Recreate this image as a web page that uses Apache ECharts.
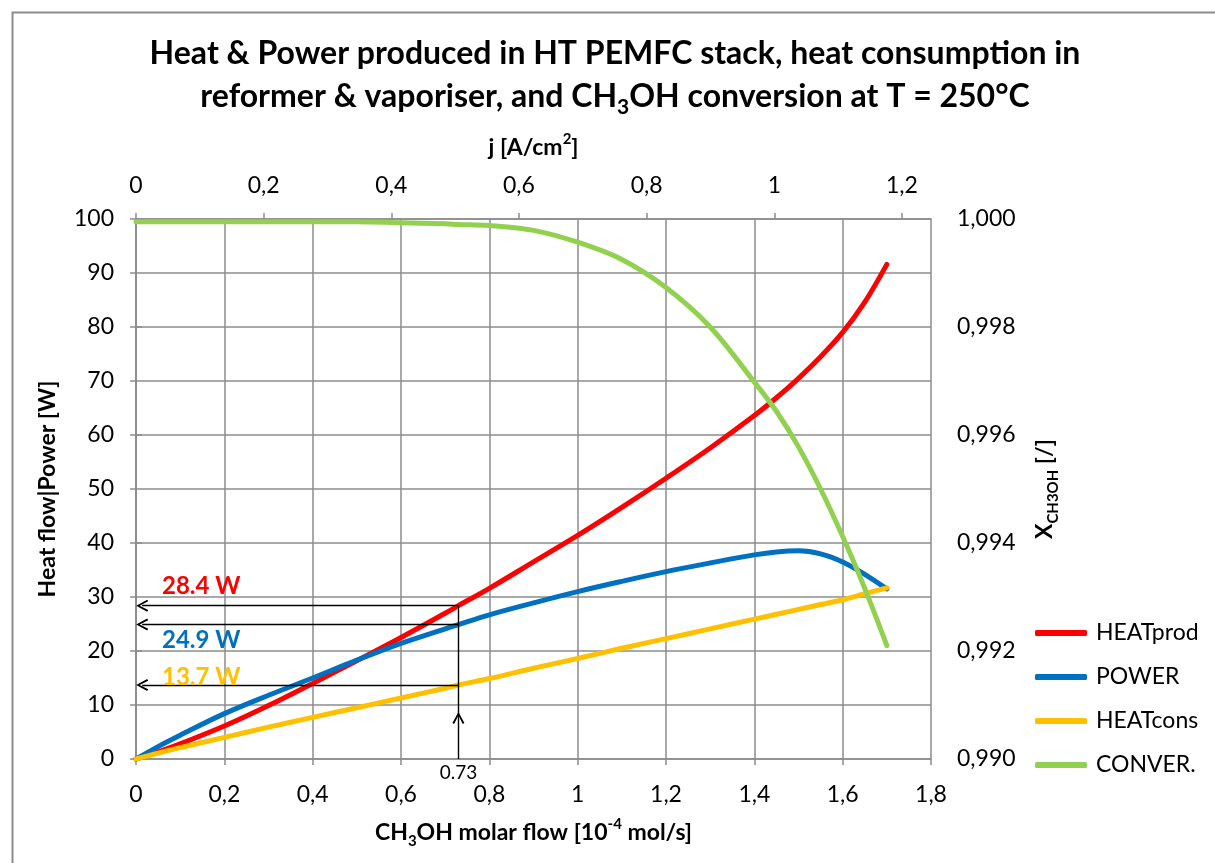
<!DOCTYPE html>
<html>
<head>
<meta charset="utf-8">
<script src="https://cdn.jsdelivr.net/npm/echarts@6/dist/echarts.min.js"></script>
<style>
html,body{margin:0;padding:0;background:#fff;}
#chart{width:1215px;height:863px;}
</style>
</head>
<body>
<div id="chart"></div>
<script>
// ---- data ----
const molarFlow = [0, 0.05, 0.1, 0.2, 0.3, 0.4, 0.5, 0.6, 0.7, 0.73, 0.8, 0.9, 1.0, 1.1, 1.2, 1.3, 1.4, 1.45, 1.5, 1.55, 1.6, 1.65, 1.7];
const heatProd = [0, 1.3, 2.8, 6.1, 9.9, 14.0, 18.2, 22.5, 27.0, 28.4, 31.6, 36.5, 41.4, 46.6, 52.0, 57.6, 63.6, 66.9, 70.5, 74.5, 79.0, 84.6, 91.6];
const power    = [0, 2.3, 4.4, 8.4, 11.8, 15.0, 18.3, 21.4, 24.1, 24.9, 26.7, 28.9, 31.0, 32.9, 34.7, 36.3, 37.8, 38.35, 38.55, 38.0, 36.5, 34.2, 31.5];
const heatCons = [0, 1.1, 2.1, 4.0, 5.9, 7.7, 9.5, 11.3, 13.1, 13.7, 14.9, 16.8, 18.6, 20.5, 22.3, 24.1, 25.9, 26.8, 27.7, 28.6, 29.5, 30.6, 31.7];
const conversion = [0.99995, 0.99995, 0.99995, 0.99995, 0.99995, 0.99995, 0.99995, 0.99993, 0.99991, 0.99990, 0.99988, 0.99979, 0.99957, 0.99925, 0.99873, 0.99800, 0.99698, 0.99644, 0.99578, 0.99500, 0.99412, 0.99316, 0.99210];
const seriesNames = ['HEATprod', 'POWER', 'HEATcons', 'CONVER.'];
const seriesColors = ['#FF0000', '#0070C0', '#FFC000', '#92D050'];
// annotation at the operating point
const opFlow = 0.73;
const opValues = [28.4, 24.9, 13.7];
const opLabels = ['28.4 W', '24.9 W', '13.7 W'];
const arrowUpAt = 7.6;     // where the upward arrowhead sits on the vertical line
const arrowEndFlow = 0.014; // left arrow tip reaches the axis
// axis extents
const xMin = 0, xMax = 1.8, xStep = 0.2;
const jMin = 0, jMax = 1.2455, jStep = 0.2;
const yMin = 0, yMax = 100, yStep = 10;
const cMin = 0.990, cMax = 1.000, cStep = 0.002;

const FONT = 'Lato';
const GRID = '#8c8c8c';
const comma = (v, d) => {
  const s = d == null ? String(Math.round(v * 1000) / 1000) : v.toFixed(d);
  return s.replace('.', ',');
};
const pairs = arr => molarFlow.map((x, i) => [x, arr[i]]);
const chevron = 'path://M0,10 L5,0 L10,10 L8.6,10.9 L5,3.2 L1.4,10.9 Z';

const chart = echarts.init(document.getElementById('chart'), null, {renderer: 'canvas'});

const mainSeries = [heatProd, power, heatCons, conversion].map((arr, i) => ({
  name: seriesNames[i],
  type: 'line',
  xAxisIndex: 0,
  yAxisIndex: i === 3 ? 1 : 0,
  data: pairs(arr),
  smooth: 0.35,
  showSymbol: false,
  symbol: 'none',
  lineStyle: {width: 5, color: seriesColors[i], cap: 'round'},
  itemStyle: {color: seriesColors[i]},
  z: 2 + i * 0.1
}));

const markLines = opValues.map(v => [
  {coord: [opFlow, v], symbol: 'none'},
  {coord: [arrowEndFlow, v], symbol: chevron, symbolSize: [12, 12]}
]);
markLines.push([
  {coord: [opFlow, 0], symbol: 'none'},
  {coord: [opFlow, arrowUpAt], symbol: chevron, symbolSize: [12, 12]}
]);
markLines.push([
  {coord: [opFlow, arrowUpAt], symbol: 'none'},
  {coord: [opFlow, opValues[0]], symbol: 'none'}
]);

const labelOffsets = [[26, -31], [26, 4], [26, -20]];
const markPoints = opValues.map((v, i) => ({
  coord: [0, v],
  symbol: 'circle',
  symbolSize: 0,
  label: {
    show: true,
    formatter: opLabels[i],
    position: labelOffsets[i],
    color: seriesColors[i],
    fontFamily: FONT,
    fontWeight: 'bold',
    fontSize: 24,
    lineHeight: 24,
    align: 'left',
    verticalAlign: 'top'
  }
}));
markPoints.push({
  coord: [opFlow, 0],
  symbol: 'circle',
  symbolSize: 0,
  label: {
    show: true,
    formatter: String(opFlow),
    position: 'bottom',
    distance: 4,
    color: '#000',
    fontFamily: FONT,
    fontSize: 19
  }
});

const annot = {
  name: 'annot',
  type: 'line',
  xAxisIndex: 0,
  yAxisIndex: 0,
  data: [],
  silent: true,
  z: 5,
  markLine: {
    silent: true,
    animation: false,
    label: {show: false},
    lineStyle: {color: '#000', width: 1.4, type: 'solid'},
    emphasis: {disabled: true},
    data: markLines
  },
  markPoint: {
    silent: true,
    animation: false,
    data: markPoints
  }
};

const nameStyle = {
  fontFamily: FONT, fontWeight: 'bold', fontSize: 23, color: '#000',
  rich: {
    n: {fontFamily: FONT, fontWeight: 'bold', fontSize: 23, lineHeight: 32, color: '#000'},
    s: {fontFamily: FONT, fontWeight: 'bold', fontSize: 15, lineHeight: 15, verticalAlign: 'bottom', color: '#000'},
    p: {fontFamily: FONT, fontWeight: 'bold', fontSize: 15, lineHeight: 15, verticalAlign: 'top', color: '#000'}
  }
};
const labelStyle = {fontFamily: FONT, fontSize: 23, color: '#000'};

const option = {
  animation: false,
  backgroundColor: '#fff',
  title: {
    left: 615,
    top: 32,
    textAlign: 'center',
    padding: 0,
    text: '{b|Heat & Power produced in HT PEMFC stack, heat consumption in}\n{b|reformer & vaporiser, and CH}{s|3}{b|OH conversion at T = 250°C}',
    textStyle: {
      rich: {
        b: {fontFamily: FONT, fontWeight: 'bold', fontSize: 32, lineHeight: 43, color: '#000'},
        s: {fontFamily: FONT, fontWeight: 'bold', fontSize: 21, lineHeight: 21, verticalAlign: 'bottom', color: '#000'}
      }
    }
  },
  graphic: [{
    type: 'rect',
    left: 10, top: 10,
    shape: {width: 1230, height: 900},
    style: {fill: 'none', stroke: '#8c8c8c', lineWidth: 2},
    silent: true,
    z: -1
  }],
  legend: {
    orient: 'vertical',
    left: 1030,
    top: 616,
    itemGap: 20,
    itemWidth: 52,
    itemHeight: 6,
    icon: 'roundRect',
    data: seriesNames,
    textStyle: {fontFamily: FONT, fontSize: 23, lineHeight: 24, color: '#000', padding: [0, 0, 0, 4]},
    selectedMode: false
  },
  grid: {left: 136, right: 284, top: 219, bottom: 104, containLabel: false},
  xAxis: [{
    type: 'value',
    position: 'bottom',
    min: xMin, max: xMax, interval: xStep,
    name: '{n|CH}{s|3}{n|OH molar flow [10}{p|-4}{n| mol/s]}',
    nameLocation: 'middle',
    nameGap: 58,
    nameTextStyle: nameStyle,
    axisLine: {show: true, lineStyle: {color: GRID, width: 1.5}},
    axisTick: {show: true, inside: false, length: 6, lineStyle: {color: GRID, width: 1.5}},
    axisLabel: Object.assign({margin: 24, formatter: v => comma(v)}, labelStyle),
    splitLine: {show: true, lineStyle: {color: GRID, width: 1.5}}
  }, {
    type: 'value',
    position: 'top',
    min: jMin, max: jMax, interval: jStep,
    name: '{n|j [A/cm}{p|2}{n|]}',
    nameLocation: 'middle',
    nameGap: 55,
    nameTextStyle: nameStyle,
    axisLine: {show: true, lineStyle: {color: GRID, width: 1.5}},
    axisTick: {show: true, inside: false, length: 6, lineStyle: {color: GRID, width: 1.5}},
    axisLabel: Object.assign({margin: 22, showMaxLabel: false, formatter: v => comma(v)}, labelStyle),
    splitLine: {show: false}
  }],
  yAxis: [{
    type: 'value',
    position: 'left',
    min: yMin, max: yMax, interval: yStep,
    name: '{n|Heat flow|Power [W]}',
    nameLocation: 'middle',
    nameGap: 72,
    nameRotate: 90,
    nameTextStyle: nameStyle,
    axisLine: {show: true, lineStyle: {color: GRID, width: 1.5}},
    axisTick: {show: true, inside: false, length: 6, lineStyle: {color: GRID, width: 1.5}},
    axisLabel: Object.assign({margin: 22, formatter: v => String(v)}, labelStyle),
    splitLine: {show: true, lineStyle: {color: GRID, width: 1.5}}
  }, {
    type: 'value',
    position: 'right',
    min: cMin, max: cMax, interval: cStep,
    name: '{n|X}{s|CH3OH}{n| [/]}',
    nameLocation: 'middle',
    nameGap: 98,
    nameRotate: 90,
    nameTextStyle: nameStyle,
    axisLine: {show: true, lineStyle: {color: GRID, width: 1.5}},
    axisTick: {show: true, inside: false, length: 6, lineStyle: {color: GRID, width: 1.5}},
    axisLabel: Object.assign({margin: 26, formatter: v => comma(v, 3)}, labelStyle),
    splitLine: {show: false}
  }],
  series: mainSeries.concat([annot])
};
chart.setOption(option);
</script>
</body>
</html>
